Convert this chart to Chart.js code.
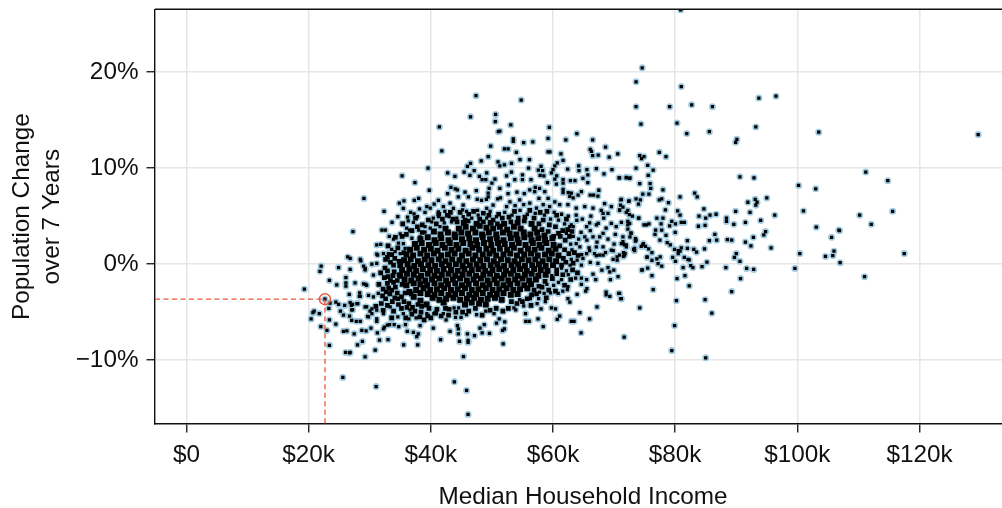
<!DOCTYPE html>
<html>
<head>
<meta charset="utf-8">
<script src="https://cdn.jsdelivr.net/npm/chart.js@4/dist/chart.umd.min.js"></script>
<style>
  html, body { margin: 0; padding: 0; background: #fff; overflow: hidden; }
  canvas { display: block; }
</style>
</head>
<body>
<canvas id="chart" width="1018" height="508"></canvas>
<script>
// [median household income in $k, population change in %]
const rightTail = [
[80.9,26.5],[74.6,20.45],[73.6,19],[81,18.5],[93.7,17.3],[96.5,17.5],[73.6,16.4],[79.1,16.4],[82.7,16.6],[86.1,16.4],
[74.4,14.6],[80.3,14.7],[81.9,13.6],[85.6,13.8],[93.2,14.3],[103.5,13.75],[129.6,13.5],[90.1,13],[89.9,12.7],[74.2,11.3],
[74.9,11.2],[74.5,11],[77.4,11.65],[78.5,11.2],[75.5,10.3],[73.6,10],[76.4,9.8],[75.6,9.25],[72,9],[72.6,9],[70.9,9],
[74.2,8.4],[75.9,8.4],[76,7.9],[78,7.75],[90.6,9.1],[92.9,9],[100.2,8.2],[103,7.85],[111.2,9.6],[114.8,8.7],
[74.7,7.3],[75.7,7.3],[73.6,6.8],[74.3,6.7],[74,6.25],[72.4,6.55],[71.1,6.7],[77.4,6.7],[77.8,6.8],[78.9,6.4],[78.4,5.65],
[80.8,7],[83.2,7.4],[83.6,7],[80.4,5.55],[80.8,5.1],[84.7,5.75],[83.9,5],[85,4.8],[85.7,5.1],[86.7,5.2],[89.9,5.5],[91.9,6.45],
[93.1,6.75],[93.4,6.45],[93.2,6.15],[95,6.9],[92.25,5.4],[96.3,5.1],[94,4.55],[91.5,4.35],[89.6,4.15],[88.4,4.8],[88.4,4.45],
[101,5.55],[103.1,3.85],[110.2,5.1],[112.1,4.15],[115.6,5.5],[106.8,3.55],[106.9,3.5],[105.6,2.8],[106,1.35],[105.8,0.9],[104.6,0.8],
[107,0.15],[100.4,1.1],[117.5,1.1],[99.6,-0.45],[111,-1.3],[94.8,3.4],[94.5,3.05],[92.8,2.8],[91.5,2.3],[92.4,1.9],[95.7,1.7],
[90,1.1],[89.7,0.7],[90.6,0.3],[91.7,-0.45],[92.85,-0.55],[90.7,-1.5],[88.3,-0.35],[89.25,-2.85],[88.55,2.55],[89.25,2.5],[86.8,2.5],
[86.5,3.1],[85.6,2.45],[84.8,1.6],[85.2,0.2],[84.4,-0.25],[84.9,4.05],[83.8,3.95],[81,4.35],[81.5,4.35],[80.05,4.2],[79.45,4.45],
[79.1,4],[78,4.8],[77,4.8],[77.7,4.2],[77.8,3.55],[76.8,3.55],[76.7,3.1],[80,3.3],[78.5,3],[77.5,2.5],[78.7,2.25],[79.2,2],[82,2.45],
[82,1.65],[81,1.7],[79.9,1.55],[80.5,1.4],[80.5,1.1],[80.8,1.35],[83.05,1.55],[83.5,1.25],[79.6,0.7],[80.05,0.3],[81.5,0.7],[82.1,0.5],
[82.3,0.45],[81.3,-0.35],[82.55,-0.15],[82.9,-0.35],[81.6,-1.2],[80.3,-1.5],[82.3,-2.25],[84.9,-3.7],[80.2,-3.8],[86,-5.1],[76.4,-2.65],
[74.2,-4.55],[79.9,-6.4],[71.65,-7.6],[79.45,-9],[85,-9.75],[70.9,-3.05],[71.2,-3.6],[76.2,-1.2],[75.5,-0.4],[74.6,-0.6],[77.8,-0.2],
[77.2,0.05],[76.2,0.4],[77,0.55],[77.55,0.75],[75.4,0.75],[76.2,1.2],[75.65,1.6],[74.8,2.15],[74.45,1.85],[75.15,1.85],[73.2,1.55],
[72,1.8],[71.55,0.8],[71.8,1.1],[71.2,2.15],[71.45,2.35],[71.7,2],[73.5,2.65],[73.5,2.4],[72.6,2.85],[72.75,3.25],[72.25,3.65],
[72.25,4.1],[72.25,4.45],[71.2,4.35],[74.05,4.8],[72,5.4],[72.5,5.15],[73,5],[70.9,5.6],[71.45,5.95],[71.05,6.15],[74.9,4.1],[75.7,4.2]
];
const upperBand = [
[54.8,17.1],[53.1,14.5],[59.4,14.25],[63.9,13.6],[51.3,13.85],[59.2,13.1],[62.1,12.95],[66.5,12.95],[53.5,13.05],[53.5,12.8],[55.2,12.65],
[56.7,12.75],[68.6,12.2],[66.1,11.95],[66.3,11.75],[52.05,12],[52.65,12],[54,11.65],[59.2,11.7],[59.5,11.7],[61.3,11.5],[66.5,11.3],
[67.4,11.35],[70.6,11.5],[69.2,11.15],[54.6,10.9],[56.15,10.9],[61.65,10.8],[60.7,10.55],[53.2,10.5],[52.05,10.35],[51.3,10.25],
[58.05,10.2],[56,10],[64.2,10.25],[64.25,9.75],[62.4,9.9],[60.3,10.25],[60,9.85],[59.75,9.5],[57.6,9.8],[58.3,9.75],[57.9,9.25],
[58.5,9.2],[53.2,9.6],[52.4,9.2],[55,9.3],[55,8.8],[53.75,8.8],[56.4,8.8],[60.6,9.2],[65.55,9.85],[65.7,9.3],[64.9,8.95],[67.1,9.95],
[69.65,9.85],[68.35,9.4],[70.8,9],[72,9.05],[72.55,8.95],[52.7,8.25],[51.3,7.9],[59.1,8.5],[60.3,8.85],[60.55,8.35],[61.65,8.8],
[61.65,8.45],[62.85,8.7],[63.6,8.7],[65.7,8.5],[54.1,7.5],[55.3,7.35],[52.65,7.35],[56.2,7.75],[57.1,8],[57,7.55],[57.8,7.9],[58.65,7.55],
[61.65,7.8],[62.5,7.45],[61.65,7.45],[63,7.4],[62.75,7.05],[63.3,6.9],[64.65,7.55],[64.1,7.2],[66.1,7.2],[66.65,7.2],[67.5,7.7],[67.35,7.1],
[71.2,6.75],[72.45,6.6],[51.4,6.9],[52.95,6.5],[54.55,6.7],[56.2,6.35],[57.7,6.85],[59.2,6.85],[60.3,6.5],[61.1,6.2],[58.4,6.2],[57.3,5.85],
[59.45,6],[63.8,5.85],[65.2,6],[66.55,5.85],[68.45,6.3],[69.55,6],[70.9,5.65],[72.25,5.6],[68.2,5.3],[69,5.3],[68.3,4.8],[63.8,5.1],[63.9,4.55],
[62.45,6.2],[63,4.1],[63.3,3.9],[65.5,3.9],[67.1,4.1],[67.4,4.25],[68.7,3.75],[69.55,4.25],[70.35,3.9],[72.55,4.25],[74,4.8],[71.45,2.85],
[72.8,3.2],[73.6,2.5],[75.3,4.1],[65.2,2.85],[66.55,2.85],[67.65,2.85],[68.2,3.2],[65.55,2.5],[67.1,1.8],[68.2,1.8],[62.2,3.2],[62.75,3.9],
[63.8,2.15],[64.4,1.8],[65.5,1.1],[69.55,1.45],[70.9,0.95],[71.7,1.1],[71.45,2.15],[72,2],[73.35,1.65],[74.7,2],[68.2,0.95],[66.8,1.1],
[47.4,17.55],[50.6,15.6],[46.5,15.35],[50.55,14.85],[51.05,13.8],[41.4,14.3],[49.8,12.3],[41.8,11.8],[49.4,11.2],[48.25,10.75],[51,10.65],
[39.55,10],[46.5,10.5],[46,10.2],[45.45,9.6],[47.1,9.75],[46.4,9.25],[42.75,9.5],[43.95,9.15],[35.3,9.2],[37.4,8.5],[49.15,9.5],[47.95,9.15],
[48.4,8.8],[49,8.8],[50,8.45],[50.5,8.85],[39.75,7.7],[43.3,8],[44,7.85],[44.35,7.75],[42.75,7.35],[45.6,7.5],[47.45,7.65],[49.55,7.9],
[49.4,7.4],[49.4,7],[29.05,6.85],[38,6.85],[37.3,6.65],[35.6,6.6],[34.85,6.35],[35.5,5.8],[41.25,6.65],[40.55,6.25],[39.35,6],[39.9,5.85],
[44.5,7],[46.15,7],[47.6,6.75],[48.3,6.65],[49.1,6.75],[50.95,6.8],[38.15,5.75],[32.35,5.5],[36.7,5.4],[37.25,5.25],[39.05,5.4],[42.05,6],
[42.3,5.5],[43.7,5.8],[43.15,6.35],[45.3,6.15],[45.2,5.65],[45.85,5.5],[47.65,5.6],[50.2,6.15],[49.7,5.5],[49.15,5.8],[34.6,4.95],[33.65,4.35],
[36.2,4.9],[36.3,4.5],[37.8,4.95],[37.15,4.35],[41.25,5.45],[40.4,4.8],[40.15,4.4],[41.25,4.95],[43,4.95],[44.25,4.8],[45.3,4.95],[46.7,4.8],
[47.75,5.1],[49.15,4.8],[50.75,4.95],[32,3.55],[32.55,3.55],[27.25,3.4],[36.05,3.75],[36.5,3.55],[35,3.15],[38,3.55],[39.05,3.9],[39.9,3.75],
[39.05,3.35],[31.15,2],[31.8,2.05],[33.6,1.55],[31.15,1.05],[32.25,1.1],[33.05,1.1],[34.15,1.3],[35,1.1],[35.5,2.15],[35.8,1.65],[36.9,2.7],
[38.25,2.85],[37.4,2],[26.8,0.6],[28.45,0.5],[33.9,2.6],[34.7,2.2],[33.2,2.9],[42.2,4.3],[41.5,3.9],[43.4,4.4],[52.1,5.4],[53.3,5.1],[54.6,5.6],
[55.8,5.2],[57.1,5.3],[58.6,5.1],[60.2,5.4],[61.4,5.2],[62.5,5],[52.4,6],[53.8,6.1],[55.2,6.2],[60.9,4.6],[59.6,4.7],[61.9,4.2],[64.8,4.7],
[66.2,5],[66,4.3],[67.9,5.6],[64.6,3.3],[66.1,3.5],[63.3,2.9],[64.2,2.6],[62.9,2.1],[63.1,1.5],[64.7,1],[65.9,1.7],[67.2,2.3],[69,2.6],[70,2.1],[70.2,3.1]
];
const lowerBand = [
[51.85,-8.3],[64.6,-7.15],[58.4,-6.5],[51.75,-6.9],[52.05,-6.75],[55.55,-5.95],[56.1,-5.95],[57.55,-5.7],[60.7,-5.75],[61.1,-5.4],[63,-5.95],
[63.45,-5.95],[66,-5.7],[64.4,-5.05],[67.2,-4.45],[55.5,-5.15],[52.1,-6],[59.75,-4.55],[60.4,-4.65],[58.05,-4.65],[57.4,-4.1],[58.75,-3.9],
[55.2,-4.35],[53.9,-4.75],[53.6,-4.55],[62.75,-3.95],[62.45,-3.6],[63.95,-3.15],[62.45,-2.35],[62.35,-2.65],[60.85,-3.05],[59.6,-3],[58.55,-3.05],
[56.3,-3.6],[56.3,-3.4],[57.65,-3.6],[54.55,-3.7],[68.7,-2.9],[68.7,-3.2],[69.3,-3.35],[70.75,-3.05],[71.1,-3.6],[65.55,-2.55],[65.35,-2.8],
[64.65,-2.1],[65.5,-1.6],[67,-1.6],[66.55,-1.05],[69.4,-1.6],[70.65,-1.3],[64.65,-1.45],[63.7,-1.45],[74.55,-0.63],[69.95,-0.63],[69.3,-0.8],
[69,-0.35],[68,-0.63],[67.35,0.07],[66.1,0.18],[64.9,0.6],[64.65,-0.1],[63.95,0.42],[69.85,0.5],[70.5,0.42],[70.5,0.77],[71.7,0.95],[71.55,1.2],
[75.4,0.7],[73.35,1.4],[69.85,1.4],[67.1,0.88],[67.65,0.95],[68.6,1.2],[66,1.4],[60.9,-1.9],[61.4,-1.6],[60.1,-2.2],[59,-2.1],[59.8,-1.2],[62.5,-1.1],
[62.2,-0.7],[61.4,-0.4],[62.8,-0.1],[63,0.5],[61.6,-2.8],[57.8,-2.9],
[31.05,-12.75],[43.85,-12.25],[45.85,-13.15],[46.1,-15.65],[29.25,-9.65],[45.35,-9.63],[26.8,-9.2],[30.9,-8.95],[28,-8.4],[28.8,-8.05],[27.45,-7.25],
[31.6,-7.9],[33,-7.85],[35.55,-8.4],[37.85,-8.4],[41.6,-7.85],[44.7,-8.05],[46.1,-7.95],[46.1,-8.15],[37.7,-7.55],[37.95,-7.25],[40.4,-6.65],[43.15,-7],
[36.15,-7],[37.15,-7.1],[46,-7.25],[47.15,-7.45],[48.4,-7.15],[49.6,-7.2],[44.5,-7.25],[44.5,-6.75],[44.35,-6.4],[48.05,-6.65],[48.75,-6.3],[28.7,-6.9],
[29.4,-6.95],[30.2,-6.65],[31.25,-7.15],[32.25,-6.75],[33.25,-6.3],[34,-6.3],[34.75,-6.5],[35.85,-6.3],[38.25,-6.4],[34.6,-5.5],[36.4,-5.7],[37.6,-5.6],
[27.8,-5.95],[28.45,-5.95],[31.15,-5.95],[29.65,-5.45],[30.35,-5.15],[42.5,-5.8],[44.05,-5.55],[44.95,-5.55],[39.35,-5.15],[40.5,-5.15],[42.05,-5.15],
[43.8,-4.55],[44.55,-4.55],[45.85,-5.25],[47.5,-5.25],[49,-4.9],[50.35,-5.15],[50.75,-6.15],[51.2,-5.7],[27.05,-4.75],[27.9,-4.1],[29.25,-4.45],[30.05,-4.9],
[32.25,-5.15],[33.35,-4.45],[35.5,-5.15],[36.6,-4.75],[27,-4.3],[28.45,-3.35],[28.35,-3],[29.35,-2.1],[27.6,-1.95],[29.25,-0.6],[28.55,0.35],[26.8,-0.55],
[19.3,-2.6],[22.05,-0.2],[21.85,-0.75],[26.4,0.75],[24.9,-0.35],[23.4,-1.7],[24.6,-2.15],[26.1,-1.4],[26.1,-1.95],[26.1,-2.3],[22.67,-3.65],[23.5,-4.05],
[23.3,-4.6],[20.9,-4.9],[20.7,-5.05],[21.75,-5.15],[20.4,-5.7],[22,-6.5],[23.4,-5.8],[23,-6.9],[24.45,-6.25],[23.4,-8.45],[26.05,-9.2],[26.7,-9.25],[25.6,-11.8],
[25.7,-7],[26.25,-6.95],[24.45,-3.95],[24.9,-4.2],[25.9,-4.3],[26.8,-4],[27.2,-4.2],[28.05,-4.1],[27.2,-4.75],[25.2,-4.9],[25.7,-5.3],[26.7,-5.4],[27.05,-5.85],
[26.65,-3.15],[28.3,-3.35],[29.5,-2.2],[29,-2.05],[29.25,-0.45],[29,-0.2],[30.6,-1.15],[30.35,0],[31.15,0.07],[31.3,0.95],[29.8,-3.25],[30.6,-3.4],[31.4,-3.05],
[29.5,-4.45],[30.35,-4.65],[31.15,-4.8],[29.8,-5.5],[31.15,-5.7],[32.9,-6.35],[32.4,-6.55]
];
// crowded ring round the centre, values are estimates
const shoulders = [
[38.6,4.1],[39.6,4.6],[40.9,4.2],[41.9,4.7],[42.7,5.1],[43.6,4.7],[44.8,5.4],[45.6,4.6],[46.2,5.2],[47,5.5],[48,4.7],[48.6,5.3],[49.5,5.1],[50.2,4.6],[51.1,5.2],
[51.7,4.8],[52.8,4.9],[53.7,5.5],[54.3,4.8],[55.4,4.9],[56.2,5.6],[56.9,4.8],[57.9,5.4],[58.4,4.6],[59,5.5],[60.6,5.1],[62.2,4.7],
[60.4,3.9],[61.6,3.5],[60.9,3.2],[62.4,3.6],[61.2,2.9],[62,2.5],[62.7,2.9],[63.1,3.4],[63.5,1.2],[62.6,1.1],[64.1,0.9],[63.3,0.1],[62.1,0.2],[63.2,-0.6],[64,-0.9],[62.9,-1.6],[61.6,-1.1],[60.6,-1],[61.9,-2.2],[60.4,-2.8],
[59.3,-2.7],[58.2,-2.4],[57.3,-3.1],[56.5,-3.2],[55.8,-3.6],[58.9,-3.5],[55,-3.9],[54.1,-4.1],[53.2,-3.9],[56.4,-4.3],[52.7,-4.6],[51.8,-4.9],[50.7,-4.6],[49.7,-4.8],
[48.4,-5.3],[47.3,-4.6],[46.2,-4.9],[45.2,-5],[44.1,-5],[43,-4.7],[42.9,-5.3],[41.7,-5.4],[40.8,-5.1],[39.5,-5.4],[38.2,-5.5],[36.9,-5.2],[35.9,-5.6],[37.9,-4.2],[37,-4.5],[36.1,-4.5],
[35.2,-3.4],[34.5,-3],[33.7,-3.9],[32.9,-4.3],[32.1,-3.3],[32.7,-2.9],[33.1,-2.5],[34.2,-2.4],[35.3,-2.1],[33.9,-1.9],[33.4,-1.7],[32.4,-1.4],[33.8,-1.2],[34.8,-1.1],[32.9,-0.7],[33.9,-0.1],
[32.9,0.7],[34.1,0.6],[34.8,0.3],[33.6,1],[34.6,1.7],[35.6,1.2],[33,1.9],[34.2,2.8],[35.3,2.9],[36,3.1],[36.9,3.5],[37.8,3.9],[38.6,3.3],[35.4,4.2],[37.5,4.8],
[31.9,-4.1],[32.6,-3.6],[33.3,-3.1],[32.2,-2.6],[31.5,-2.1],[32.9,-2],[33.6,-2.7],[33,-1.3],[31.8,-0.9],[32.5,-0.4],[33.4,0.2],[32.6,0.5],[34,-0.8],[34.5,-1.7],[34.1,-3.5],[34.7,-4.2],[33.9,-4.9],
[35.2,-4.6],[35.6,-3.9],[36.4,-4.1],[37.4,-4.9],[38.4,-5],[38.9,-5.8],[40,-5.6],[38.5,-4.4],[39.7,-4.6],[41,-4.7],[42.4,-4.6],[33.6,-5.6],[32.2,-4.8],[31,-4.4],[34.6,-3.6],[35.8,-3],[36.8,-3.1],
[41.3,5.2],[43.2,5.4],[44.3,4.4],[46.1,4.5],[48.6,4.4],[50.9,4.2],[53.1,4.4],[55.3,4.5],[57.7,4.2],[59.4,4.1],[58.2,3.6],[59.2,3.4],[60.1,2.9],[61.1,1.9],[61.9,1.5],[61.7,0.6],[61.4,-0.1],[60.6,-0.6],[59.9,-1.5],[58.7,-1.8],[57.7,-2.3],[56.9,-2.7]
];
// centre of the cloud: marks overlap too much to read one by one, values are estimates
const denseCore = [
[45.4,4.3],[47.5,4.2],[49.8,4.3],[52,4.2],[54.2,4.3],[56.5,4.2],
[42.4,3.7],[44.6,3.7],[45.7,3.9],[46.9,3.7],[48,4],[49.1,3.8],[50.2,3.7],[51.3,3.9],[52.5,3.6],[53.6,3.9],[54.7,3.7],[57,3.7],
[40.5,3.4],[41.6,3.1],[42.8,3.3],[43.9,3.1],[45,3.3],[46.1,3.2],[47.3,3.3],[48.4,3.1],[49.5,3.3],[50.7,3.1],[51.8,3.3],[52.9,3.2],[54,3.1],[55.2,3.3],[56.3,3.1],[57.4,3.3],[58.6,3],
[38.3,2.6],[39.5,2.8],[40.6,2.5],[41.7,2.7],[42.9,2.5],[44,2.8],[45.1,2.6],[46.3,2.7],[47.4,2.5],[48.5,2.8],[49.7,2.6],[50.8,2.7],[51.9,2.5],[53.1,2.7],[54.2,2.6],[55.3,2.8],[56.5,2.5],[57.6,2.7],[58.7,2.5],[59.9,2.7],
[37.4,2.1],[38.5,2.2],[39.7,2],[40.8,2.2],[41.9,2],[43.1,2.2],[44.2,2],[45.3,2.2],[46.5,2.1],[47.6,2],[48.7,2.2],[49.9,2],[51,2.2],[52.1,2.1],[53.3,2],[54.4,2.2],[55.5,2],[56.7,2.2],[57.8,2],[58.9,2.2],[60.1,2],
[36.6,1.5],[37.7,1.7],[38.9,1.5],[40,1.6],[41.1,1.4],[42.3,1.7],[43.4,1.5],[44.5,1.6],[45.7,1.4],[46.8,1.7],[47.9,1.5],[49.1,1.6],[50.2,1.4],[51.3,1.6],[52.5,1.5],[53.6,1.7],[54.7,1.4],[55.9,1.6],[57,1.5],[58.1,1.7],[59.3,1.4],[60.4,1.6],
[36,1],[37.1,0.9],[38.3,1.1],[39.4,0.9],[40.5,1.1],[41.7,0.9],[42.8,1],[43.9,1.1],[45.1,0.9],[46.2,1.1],[47.3,0.9],[48.5,1],[49.6,1.1],[50.7,0.9],[51.9,1],[53,1.1],[54.1,0.9],[55.3,1],[56.4,1.1],[57.5,0.9],[58.7,1],[59.8,1.1],[60.9,0.9],
[35.6,0.4],[36.7,0.5],[37.9,0.3],[39,0.5],[40.1,0.4],[41.3,0.5],[42.4,0.3],[43.5,0.5],[44.7,0.4],[45.8,0.3],[46.9,0.5],[48.1,0.4],[49.2,0.5],[50.3,0.3],[51.5,0.5],[52.6,0.4],[53.7,0.3],[54.9,0.5],[56,0.4],[57.1,0.5],[58.3,0.3],[59.4,0.5],[60.5,0.3],
[35,-0.1],[36.2,0],[37.3,-0.2],[38.4,0],[39.6,-0.1],[40.7,-0.2],[41.8,0],[43,-0.1],[44.1,0],[45.2,-0.2],[46.4,-0.1],[47.5,0],[48.6,-0.2],[49.8,-0.1],[50.9,0],[52,-0.2],[53.2,-0.1],[54.3,0],[55.4,-0.2],[56.6,-0.1],[57.7,0],[58.8,-0.2],[60,-0.1],
[35.3,-0.6],[36.5,-0.5],[37.6,-0.7],[38.7,-0.5],[39.9,-0.6],[41,-0.7],[42.1,-0.5],[43.3,-0.6],[44.4,-0.7],[45.5,-0.5],[46.7,-0.6],[47.8,-0.5],[48.9,-0.7],[50.1,-0.6],[51.2,-0.5],[52.3,-0.7],[53.5,-0.6],[54.6,-0.5],[55.7,-0.7],[56.9,-0.5],[58,-0.6],[59.1,-0.7],
[35,-1.2],[36.1,-1],[37.2,-1.1],[38.4,-1.2],[39.5,-1],[40.6,-1.2],[41.8,-1.1],[42.9,-1],[44,-1.2],[45.2,-1.1],[46.3,-1],[47.4,-1.2],[48.6,-1.1],[49.7,-1],[50.8,-1.2],[52,-1.1],[53.1,-1],[54.2,-1.2],[55.4,-1.1],[56.5,-1],[57.6,-1.2],[58.8,-1.1],
[35.7,-1.6],[36.8,-1.7],[38,-1.5],[39.1,-1.7],[40.2,-1.6],[41.4,-1.5],[42.5,-1.7],[43.6,-1.6],[44.8,-1.5],[45.9,-1.7],[47,-1.6],[48.2,-1.5],[49.3,-1.7],[50.4,-1.6],[51.6,-1.5],[52.7,-1.7],[53.8,-1.6],[55,-1.5],[56.1,-1.7],[57.2,-1.6],
[37.2,-2],[38.3,-2.1],[39.4,-2.2],[40.6,-2],[41.7,-2.2],[42.8,-2.1],[44,-2],[45.1,-2.2],[46.2,-2.1],[47.4,-2],[48.5,-2.2],[49.6,-2.1],[50.8,-2],[51.9,-2.2],[53,-2.1],[54.2,-2],[55.3,-2.2],[56.4,-2.1],
[37.6,-2.7],[38.8,-2.5],[39.9,-2.7],[41,-2.6],[42.2,-2.5],[43.3,-2.7],[44.4,-2.6],[45.6,-2.5],[46.7,-2.7],[47.8,-2.6],[49,-2.5],[50.1,-2.7],[51.2,-2.6],[52.4,-2.5],[53.5,-2.7],[54.6,-2.6],[55.8,-2.5],
[38.3,-3],[39.5,-3.1],[40.6,-3.2],[41.7,-3],[42.9,-3.2],[44,-3.1],[45.1,-3],[46.3,-3.2],[47.4,-3.1],[48.5,-3],[49.7,-3.2],[50.8,-3.1],[51.9,-3],[53.1,-3.2],[54.2,-3.1],
[40.3,-3.5],[41.4,-3.7],[42.5,-3.6],[43.7,-3.5],[44.8,-3.7],[45.9,-3.6],[47.1,-3.5],[48.2,-3.7],[49.3,-3.6],[50.5,-3.5],[51.6,-3.7],
[42.1,-4],[45.6,-4.2],[46.7,-4],[47.9,-4.1],[49,-4.2],
[36,-2.2],[36.5,-2.9],[37.2,-3.4],[38.3,-3.8],[39.3,-4.2]
];

const xTicks = [0, 20, 40, 60, 80, 100, 120];
const yTicks = [-10, 0, 10, 20];
const xTitle = 'Median Household Income';
const yTitle = ['Population Change', 'over 7 Years'];
const highlighted = [22.67, -3.65];

const FONT = '"Liberation Sans", Arial, sans-serif';
const TEXT = '#111';
const X_MIN = -5.15, X_MAX = 134.99, Y_MIN = -16.65, Y_MAX = 26.55;
const BLUE = '#9fcae0', RED = '#e8553a';

const toXY = points => points.map(([x, y]) => ({ x, y }));
const sparse = toXY([...rightTail, ...upperBand, ...lowerBand]);
const crowded = toXY(shoulders);
const dense = toXY(denseCore);

const noScalePadding = scale => {
  scale.paddingTop = scale.paddingBottom = scale.paddingLeft = scale.paddingRight = 0;
};

const topLine = {
  id: 'topLine',
  afterDraw(chart) {
    const { ctx, chartArea } = chart;
    ctx.save();
    ctx.strokeStyle = '#111';
    ctx.lineWidth = 1.4;
    ctx.beginPath();
    ctx.moveTo(chartArea.left, chartArea.top);
    ctx.lineTo(chartArea.right, chartArea.top);
    ctx.stroke();
    ctx.restore();
  }
};

new Chart(document.getElementById('chart'), {
  type: 'scatter',
  plugins: [topLine],
  data: {
    datasets: [
      { data: dense, order: 9, pointStyle: 'circle', pointRadius: 4.6, pointBackgroundColor: BLUE, pointBorderWidth: 0 },
      { data: crowded, order: 8, pointStyle: 'circle', pointRadius: 4.1, pointBackgroundColor: BLUE, pointBorderWidth: 0 },
      { data: sparse, order: 7, pointStyle: 'circle', pointRadius: 3.5, pointBackgroundColor: BLUE, pointBorderWidth: 0 },
      { data: dense, order: 6, pointStyle: 'rect', pointRadius: 4.2, pointBackgroundColor: '#000', pointBorderWidth: 0 },
      { data: crowded, order: 5, pointStyle: 'rect', pointRadius: 3.3, pointBackgroundColor: '#000', pointBorderWidth: 0 },
      { data: sparse, order: 4, pointStyle: 'rect', pointRadius: 2.3, pointBackgroundColor: '#000', pointBorderWidth: 0 },
      {
        data: [{ x: X_MIN, y: highlighted[1] }, { x: highlighted[0], y: highlighted[1] }, { x: highlighted[0], y: Y_MIN }],
        order: 2, showLine: true, pointRadius: 0, borderColor: RED, borderWidth: 1.3, borderDash: [5, 3.5]
      },
      {
        data: [{ x: highlighted[0], y: highlighted[1] }],
        order: 1, pointStyle: 'circle', pointRadius: 5.5, pointBackgroundColor: 'rgba(0,0,0,0)', pointBorderColor: RED, pointBorderWidth: 1.4
      }
    ]
  },
  options: {
    responsive: false,
    animation: false,
    devicePixelRatio: 1,
    layout: { padding: { top: 9.3, right: 0, bottom: 0, left: 0 } },
    plugins: { legend: { display: false }, tooltip: { enabled: false } },
    scales: {
      x: {
        type: 'linear',
        min: X_MIN,
        max: X_MAX,
        afterBuildTicks: scale => { scale.ticks = xTicks.map(value => ({ value })); },
        afterFit: scale => { scale.height = 84; noScalePadding(scale); },
        grid: { color: '#e6e6e6', lineWidth: 1.5, tickColor: '#111', tickLength: 8.5, tickWidth: 1.3 },
        border: { color: '#111', width: 1.4 },
        ticks: {
          maxRotation: 0,
          autoSkip: false,
          color: TEXT,
          padding: 8,
          font: { family: FONT, size: 24.3 },
          callback: value => (value === 0 ? '$0' : '$' + value + 'k')
        },
        title: { display: true, text: xTitle, color: TEXT, font: { family: FONT, size: 24.3 }, padding: { top: 0, bottom: -4 } }
      },
      y: {
        type: 'linear',
        min: Y_MIN,
        max: Y_MAX,
        afterBuildTicks: scale => { scale.ticks = yTicks.map(value => ({ value })); },
        afterFit: scale => { scale.width = 155; noScalePadding(scale); },
        grid: { color: '#e6e6e6', lineWidth: 1.5, tickColor: '#111', tickLength: 8.5, tickWidth: 1.3 },
        border: { color: '#111', width: 1.4 },
        ticks: {
          autoSkip: false,
          color: TEXT,
          padding: 8,
          font: { family: FONT, size: 24.3 },
          callback: value => (value < 0 ? '\u2212' + Math.abs(value) : value) + '%'
        },
        title: { display: true, text: yTitle, color: TEXT, font: { family: FONT, size: 24.3, lineHeight: 1.27 }, padding: { top: 6.5, bottom: 0 } }
      }
    }
  }
});
</script>
</body>
</html>
